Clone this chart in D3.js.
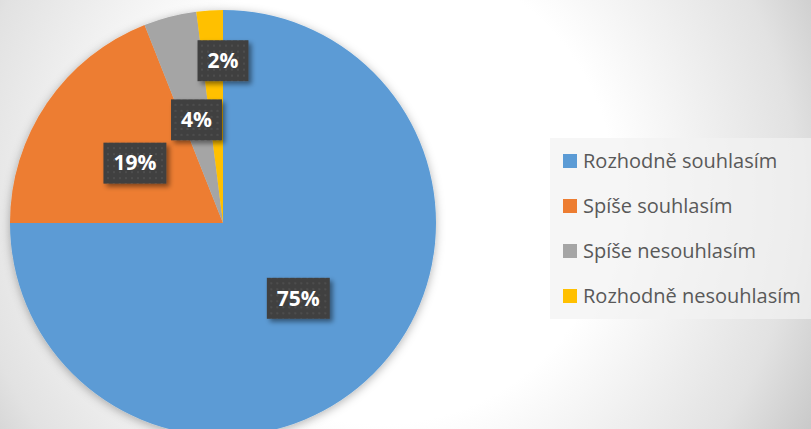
<!DOCTYPE html>
<meta charset="utf-8">

<!-- Load d3.js -->
<script src="https://d3js.org/d3.v7.min.js"></script>

<style>
    body { margin: 0; }
    svg { display: block; }
</style>

<body>
    <div id="my_dataviz"></div>

    <script>

        // data
        var categories = ["Rozhodně souhlasím", "Spíše souhlasím", "Spíše nesouhlasím", "Rozhodně nesouhlasím"];
        var values = [75, 19, 4, 2];
        var colors = ["#5B9BD5", "#ED7D31", "#A5A5A5", "#FFC000"];

        var width = 811,
            height = 429,
            radius = 213,
            cx = 223,
            cy = 223;

        var svg = d3.select("#my_dataviz").append("svg")
            .attr("width", width)
            .attr("height", height);

        var defs = svg.append("defs");

        // background gradient
        var bg = defs.append("radialGradient")
            .attr("id", "bg")
            .attr("gradientUnits", "userSpaceOnUse")
            .attr("cx", 380).attr("cy", 190).attr("r", 520);
        bg.append("stop").attr("offset", 0).attr("stop-color", "#ffffff");
        bg.append("stop").attr("offset", 0.45).attr("stop-color", "#ffffff");
        bg.append("stop").attr("offset", 0.8).attr("stop-color", "#e2e2e2");
        bg.append("stop").attr("offset", 1).attr("stop-color", "#c0c0c0");

        // shadows
        var pieShadow = defs.append("filter").attr("id", "pieShadow")
            .attr("x", "-20%").attr("y", "-20%").attr("width", "140%").attr("height", "140%");
        pieShadow.append("feDropShadow")
            .attr("dx", 0).attr("dy", 2).attr("stdDeviation", 5)
            .attr("flood-color", "#000").attr("flood-opacity", 0.3);

        var boxShadow = defs.append("filter").attr("id", "boxShadow")
            .attr("x", "-30%").attr("y", "-30%").attr("width", "160%").attr("height", "160%");
        boxShadow.append("feDropShadow")
            .attr("dx", 3).attr("dy", 3).attr("stdDeviation", 2.5)
            .attr("flood-color", "#000").attr("flood-opacity", 0.45);

        // dotted fill for the data labels
        var dots = defs.append("pattern")
            .attr("id", "dots")
            .attr("patternUnits", "userSpaceOnUse")
            .attr("width", 6).attr("height", 6);
        dots.append("rect").attr("width", 6).attr("height", 6).attr("fill", "#404040");
        dots.append("rect").attr("x", 2).attr("y", 2).attr("width", 2).attr("height", 2).attr("fill", "#4e4e4e");

        svg.append("rect")
            .attr("width", width)
            .attr("height", height)
            .attr("fill", "url(#bg)");

        // pie
        var pie = d3.pie().sort(null).value(function (d) { return d; });
        var arc = d3.arc().innerRadius(0).outerRadius(radius);
        var arcs = pie(values);

        var g = svg.append("g")
            .attr("transform", "translate(" + cx + "," + cy + ")");

        g.append("g")
            .attr("filter", "url(#pieShadow)")
            .selectAll("path")
            .data(arcs)
            .enter()
            .append("path")
            .attr("d", arc)
            .attr("fill", function (d, i) { return colors[i]; });

        // data labels, moved up when they would overlap
        var total = d3.sum(values);
        var placed = [];
        var labelFont = "bold 21px 'Open Sans', sans-serif";

        var labels = g.append("g").selectAll("g")
            .data(arcs)
            .enter()
            .append("g");

        labels.each(function (d) {
            var sel = d3.select(this);
            var txt = Math.round(d.value / total * 100) + "%";
            var t = sel.append("text")
                .attr("text-anchor", "middle")
                .attr("dy", "0.35em")
                .attr("fill", "#ffffff")
                .style("font", labelFont)
                .text(txt);
            var w = t.node().getComputedTextLength() + 20,
                h = 41;
            var a = (d.startAngle + d.endAngle) / 2;
            var r = radius * 0.5;
            var bx = Math.sin(a) * r, by = -Math.cos(a) * r;
            function box(x, y) {
                return { x: x, y: y, x0: x - w / 2, x1: x + w / 2, y0: y - h / 2, y1: y + h / 2 };
            }
            function hits(b) {
                return placed.some(function (p) {
                    return b.x0 < p.x1 && b.x1 > p.x0 && b.y0 < p.y1 + 18 && b.y1 > p.y0 - 18;
                });
            }
            var b = box(bx, by);
            if (hits(b)) {
                // tiny slice: sit on the slice edge, above the neighbour
                bx = Math.sin(d.endAngle) * r;
                b = box(bx, by);
                while (hits(b) && by > -radius) { by -= 1; b = box(bx, by); }
            }
            placed.push(b);
            sel.attr("transform", "translate(" + b.x + "," + b.y + ")");
            sel.insert("rect", "text")
                .attr("x", -w / 2).attr("y", -h / 2)
                .attr("width", w).attr("height", h)
                .attr("fill", "url(#dots)")
                .attr("filter", "url(#boxShadow)");
        });

        // legend
        var legend = svg.append("g").attr("transform", "translate(550,138)");
        legend.append("rect")
            .attr("width", 261).attr("height", 181)
            .attr("fill", "#f2f2f2").attr("fill-opacity", 0.7);

        var y = d3.scalePoint().domain(categories).range([23, 158]);

        var item = legend.selectAll(".item")
            .data(categories)
            .enter().append("g")
            .attr("class", "item")
            .attr("transform", function (d) { return "translate(13," + y(d) + ")"; });

        item.append("rect")
            .attr("y", -7).attr("width", 14).attr("height", 14)
            .attr("fill", function (d, i) { return colors[i]; });

        item.append("text")
            .attr("x", 20)
            .attr("dy", "0.35em")
            .attr("fill", "#595959")
            .style("font", "20px 'Open Sans', sans-serif")
            .text(function (d) { return d; });

    </script>
</body>

</html>
